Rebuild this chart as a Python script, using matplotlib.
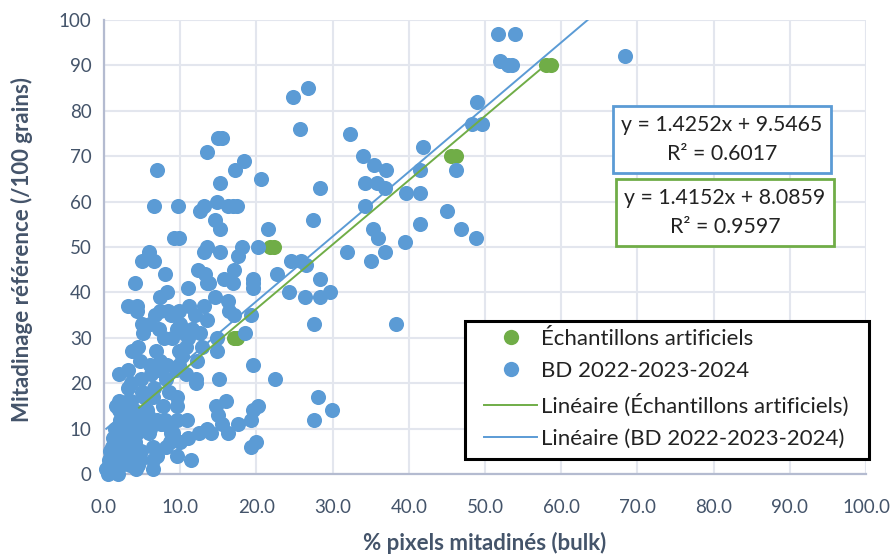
import matplotlib
matplotlib.use("Agg")
import matplotlib.pyplot as plt
import numpy as np
from matplotlib.lines import Line2D
from matplotlib.patches import Rectangle

plt.rcParams['font.family'] = ['Lato', 'DejaVu Sans']

art_x = [5.0, 17.0, 17.5, 21.8, 22.3, 45.5, 46.2, 58.0, 58.7]
art_y = [10, 30, 30, 50, 50, 70, 70, 90, 90]

bd_upper_x = [51.7, 53.9, 52.0, 53.0, 53.5, 68.4, 49.0, 48.3, 49.6, 41.9, 41.5, 46.2, 45.0, 46.9, 48.8, 38.3, 39.5, 39.6,
              41.5, 41.5, 32.3, 34.0, 34.3, 35.4, 35.8, 37.0, 36.9, 34.3, 35.3, 36.0, 36.9, 35.0, 31.9, 28.3, 27.4, 24.8,
              26.8, 25.7, 20.6, 21.5, 20.2, 24.5, 25.9, 26.5, 22.7, 28.3, 24.3, 26.4, 28.3, 29.7, 27.6, 22.4, 28.1, 27.6, 29.9]
bd_upper_y = [97, 97, 91, 90, 90, 92, 82, 77, 77, 72, 67, 67, 58, 54, 52, 33, 51, 62,
              62, 55, 75, 70, 64, 68, 64, 67, 63, 59, 54, 52, 49, 47, 49, 63, 56, 83,
              85, 76, 65, 54, 50, 47, 47, 46, 44, 43, 40, 39, 39, 40, 33, 21, 17, 12, 14]

bd_mid_x = [7.0, 6.6, 9.7, 5.9, 5.0, 6.6, 8.0, 4.1, 9.2, 9.8, 13.5, 15.0, 15.5, 18.4, 17.2, 15.2, 13.1, 12.6, 14.8, 16.3,
            16.9, 17.4, 14.6, 15.2, 13.1, 13.5, 15.2, 18.1, 17.6, 17.1, 12.3, 13.3, 15.7, 13.5, 16.9, 19.6, 19.5, 19.6,
            11.0, 8.3, 7.3, 13.8, 14.6, 16.3, 16.4, 17.0, 19.3, 18.5, 14.8, 14.8, 19.6, 15.1, 14.7, 16.0, 15.0, 15.5,
            20.2, 19.6, 19.3, 17.6, 16.3, 13.5, 14.0, 12.5, 11.0, 10.0, 9.6, 11.4, 20.0, 19.3, 10.9, 9.6, 7.0, 6.4]
bd_mid_y = [67, 59, 59, 49, 47, 47, 44, 42, 52, 52, 71, 74, 74, 69, 67, 64, 59, 58, 60, 59,
            59, 59, 56, 54, 49, 50, 49, 50, 48, 45, 45, 44, 43, 42, 42, 43, 41, 42,
            41, 40, 39, 42, 39, 38, 36, 35, 35, 31, 30, 27, 24, 21, 15, 16, 13, 11,
            15, 14, 12, 11, 9, 10, 9, 9, 8, 7, 4, 3, 7, 6, 12, 12, 4, 1]

bd_cloud_x = [3.2, 4.3, 4.3, 5.0, 5.1, 6.7, 7.3, 8.4, 8.8, 9.9, 11.2, 11.9, 13.1, 13.5, 12.6, 12.9, 12.2, 10.7, 12.1, 12.1,
              10.0, 10.5, 9.8, 9.6, 4.5, 3.7, 6.8, 7.4, 4.7, 6.0, 3.2, 2.0, 7.1, 8.3, 9.4, 3.2, 3.5, 2.0, 1.6, 3.5,
              5.8, 7.7, 9.6, 9.6, 8.5, 7.0, 8.0, 5.9, 6.5, 9.0, 8.2, 6.4, 7.5, 8.7, 6.2, 5.3, 5.0, 4.8, 5.6, 7.9,
              10.3, 11.0, 11.5, 6.0, 7.2, 8.9, 9.9, 10.7, 5.5, 4.4, 3.9, 6.9, 8.1]
bd_cloud_y = [37, 37, 36, 33, 31, 35, 36, 36, 35, 36, 37, 35, 37, 34, 31, 28, 25, 28, 21, 20,
              33, 31, 27, 32, 28, 27, 27, 25, 25, 24, 23, 22, 23, 24, 23, 19, 20, 16, 15, 16,
              13, 15, 17, 15, 18, 12, 12, 9, 19, 9, 21, 17, 11, 7, 22, 17, 18, 21, 14, 30,
              26, 30, 32, 33, 32, 30, 24, 22, 11, 12, 13, 5, 6]

bd_low_x = [0.3, 0.5, 1.8, 1.0, 1.0, 1.1, 1.2, 1.3, 1.4, 1.5, 1.6, 1.7, 1.8, 1.9, 2.0, 2.0, 2.1, 2.2, 2.3, 2.4,
            2.5, 2.5, 2.6, 2.7, 2.8, 2.9, 3.0, 3.0, 3.1, 3.2, 3.3, 3.4, 3.5, 3.6, 3.7, 3.8, 3.9, 4.0, 4.0, 4.1,
            4.2, 4.3, 4.4, 4.5, 4.6, 1.2, 1.5, 2.0, 2.4, 3.2, 1.4, 1.1, 0.9, 2.6, 4.2, 0.7,
            0.6, 0.8, 6.4, 4.9, 4.7, 6.4, 6.0, 8.0, 8.8, 1.0]
bd_low_y = [1, 0, 0, 1, 2, 3, 4, 5, 6, 7, 8, 1, 9, 3, 10, 5, 12, 2, 13, 6,
            14, 8, 4, 11, 15, 3, 7, 9, 12, 5, 10, 2, 13, 6, 4, 8, 11, 3, 14, 7,
            5, 9, 2, 12, 4, 8, 10, 14, 15, 16, 4, 5, 3, 9, 1, 2,
            3, 5, 3, 5, 3, 6, 10, 11, 9, 6]

blue_x = bd_upper_x + bd_mid_x + bd_cloud_x + bd_low_x
blue_y = bd_upper_y + bd_mid_y + bd_cloud_y + bd_low_y

blue_slope, blue_intercept = 1.4252, 9.5465
green_slope, green_intercept = 1.4152, 8.0859
blue_line_x = np.array([0.3, 64.0])
green_line_x = np.array([4.6, 58.7])

x_ticks = [10 * i for i in range(11)]
y_ticks = [10 * i for i in range(11)]

BLUE = '#5B9BD5'
GREEN = '#70AD47'
SLATE = '#44546A'
GRID = '#E3E6EE'
AXIS = '#B4BBD0'
W, H = 895, 554

fig = plt.figure(figsize=(W / 100, H / 100), dpi=100)
ax = fig.add_axes([104 / W, 1 - 474 / H, (866 - 104) / W, (474 - 20) / H])
ax.set_xlim(0, 100)
ax.set_ylim(0, 100)
ax.set_xticks(x_ticks)
ax.set_yticks(y_ticks)
ax.set_xticklabels([f'{v:.1f}' for v in x_ticks])
ax.grid(True, color=GRID, lw=1.5, zorder=0)
ax.set_axisbelow(True)
ax.tick_params(length=0, labelsize=13.5, labelcolor=SLATE, pad=9)
ax.tick_params(axis='x', pad=18)
for s in ['top', 'right']:
    ax.spines[s].set_visible(False)
for s in ['left', 'bottom']:
    ax.spines[s].set_color(AXIS)
    ax.spines[s].set_linewidth(1.6)

ax.plot(blue_line_x, blue_slope * blue_line_x + blue_intercept, color=BLUE, lw=1.4, zorder=2)
ax.scatter(art_x, art_y, s=118, color=GREEN, linewidths=0, zorder=3, clip_on=False)
ax.scatter(blue_x, blue_y, s=118, color=BLUE, linewidths=0, zorder=4, clip_on=False)
ax.plot(green_line_x, green_slope * green_line_x + green_intercept, color=GREEN, lw=1.4, zorder=5)

ax.set_xlabel('% pixels mitadinés (bulk)', fontsize=16, fontweight='bold', color=SLATE)
ax.xaxis.set_label_coords((485 - 104) / (866 - 104), -(543 - 474) / (474 - 20), transform=ax.transAxes)
ax.xaxis.label.set_va('center')
ax.set_ylabel('Mitadinage référence (/100 grains)', fontsize=16, fontweight='bold', color=SLATE)
ax.yaxis.set_label_coords(-(104 - 22) / (866 - 104), (474 - 250) / (474 - 20), transform=ax.transAxes)
ax.yaxis.label.set_va('center')


def add_frame(l, t, r, b, color, lw):
    ax.add_patch(Rectangle((l / W, 1 - b / H), (r - l) / W, (b - t) / H, transform=fig.transFigure,
                           facecolor='white', edgecolor=color, lw=lw, zorder=6, clip_on=False))


def eq_box(cx, cy, w, h, color, text):
    add_frame(cx - w / 2, cy - h / 2, cx + w / 2, cy + h / 2, color, 2)
    ax.text(cx / W, 1 - cy / H, text, transform=fig.transFigure, ha='center', va='center',
            fontsize=15.3, color='#222222', linespacing=1.6, zorder=7)


eq_box(722, 139.5, 218, 67, BLUE, f'y = {blue_slope:.4f}x + {blue_intercept:.4f}\nR² = 0.6017')
eq_box(725, 212.5, 218, 67, GREEN, f'y = {green_slope:.4f}x + {green_intercept:.4f}\nR² = 0.9597')

add_frame(465, 321, 869, 459, 'black', 2.2)

handles = [
    Line2D([], [], ls='', marker='o', ms=11, color=GREEN, mew=0),
    Line2D([], [], ls='', marker='o', ms=11, color=BLUE, mew=0),
    Line2D([], [], color=GREEN, lw=1.4),
    Line2D([], [], color=BLUE, lw=1.4),
]
labels = ['Échantillons artificiels', 'BD 2022-2023-2024',
          'Linéaire (Échantillons artificiels)', 'Linéaire (BD 2022-2023-2024)']
leg = ax.legend(handles, labels, loc='upper left', bbox_to_anchor=(484 / W, 1 - 329 / H),
                bbox_transform=fig.transFigure, fontsize=16, frameon=False, borderaxespad=0, borderpad=0,
                handlelength=2.4, handletextpad=0.18, labelspacing=0.55)
leg.set_zorder(8)
for t in leg.get_texts():
    t.set_color('#222222')

fig.savefig('out.png', dpi=100)
